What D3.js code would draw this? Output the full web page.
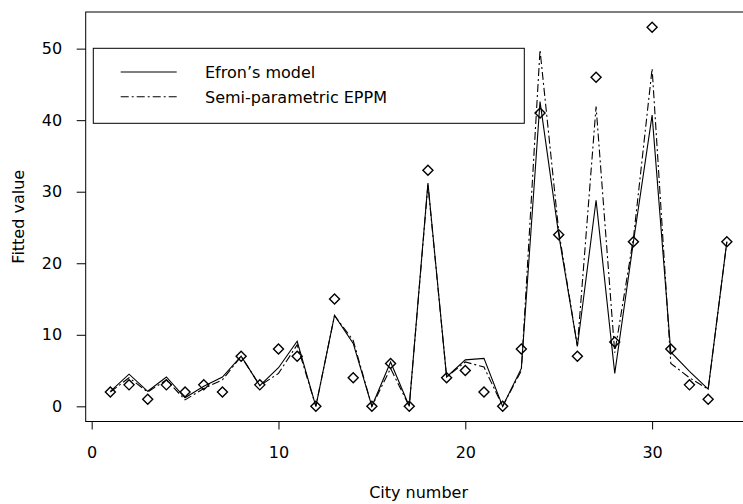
<!DOCTYPE html>
<html>
<head>
<meta charset="utf-8">
<script src="https://cdn.jsdelivr.net/npm/d3@7"></script>
<style>
  body { margin: 0; background: #fff; }
  svg { display: block; font-family: "DejaVu Sans", sans-serif; }
</style>
</head>
<body>
<div id="chart-area"></div>
<script>
// City numbers 1..34
var cities = [1, 2, 3, 4, 5, 6, 7, 8, 9, 10, 11, 12, 13, 14, 15, 16, 17,
              18, 19, 20, 21, 22, 23, 24, 25, 26, 27, 28, 29, 30, 31, 32, 33, 34];
// observed counts (diamonds)
var observed = [2, 3, 1, 3, 2, 3, 2, 7, 3, 8, 7, 0, 15, 4, 0, 6, 0,
                33, 4, 5, 2, 0, 8, 41, 24, 7, 46, 9, 23, 53, 8, 3, 1, 23];
// Efron's model fitted (solid)
var efron = [2.1, 4.5, 2.1, 4.1, 1.2, 2.8, 4.1, 7.0, 2.9, 5.4, 9.1, 0, 12.7, 8.8, 0, 6.2, 0,
             31.2, 4.1, 6.5, 6.7, 0, 5.3, 42.6, 24.0, 8.4, 28.8, 4.6, 23.0, 40.7, 7.6, 4.9, 2.4, 23.0];
// Semi-parametric EPPM fitted (dot-dash)
var eppm = [2.0, 4.0, 2.0, 3.7, 0.9, 2.5, 3.7, 7.0, 2.9, 4.6, 8.6, 0, 12.7, 9.2, 0, 5.3, 0,
            31.0, 4.1, 6.2, 5.5, 0, 5.0, 49.8, 24.5, 8.4, 41.9, 7.5, 23.5, 47.2, 6.0, 4.0, 2.4, 23.0];
var xTicks = [0, 10, 20, 30];
var yTicks = [0, 10, 20, 30, 40, 50];
var seriesNames = ["Efron\u2019s model", "Semi-parametric EPPM"];

var width = 743, height = 504;
var plot = { left: 85.7, top: 12, bottom: 421.5, right: 751.5 };
var fontSize = "16px";
var font = "DejaVu Sans, sans-serif";

var svg = d3.select("#chart-area")
    .append("svg")
        .attr("width", width)
        .attr("height", height);

svg.append("rect")
    .attr("width", width).attr("height", height).attr("fill", "#fff");

// Scales (R style 4% padding)
var x = d3.scaleLinear()
    .domain([-0.32, 35.32])
    .range([plot.left, plot.right]);
var y = d3.scaleLinear()
    .domain([-2.12, 55.12])
    .range([plot.bottom, plot.top]);

// Box
svg.append("rect")
    .attr("x", plot.left)
    .attr("y", plot.top)
    .attr("width", plot.right - plot.left)
    .attr("height", plot.bottom - plot.top)
    .attr("fill", "none")
    .attr("stroke", "#000")
    .attr("stroke-width", 1);

// X Axis
var xAxisCall = d3.axisBottom(x)
    .tickValues(xTicks)
    .tickSize(8)
    .tickPadding(17)
    .tickFormat(d3.format("d"));
var xAxis = svg.append("g")
    .attr("transform", "translate(0," + plot.bottom + ")")
    .call(xAxisCall);
xAxis.select(".domain").remove();
xAxis.selectAll("text").attr("font-size", fontSize).attr("fill", "#000")
    .attr("font-family", font);

// Y Axis
var yAxisCall = d3.axisLeft(y)
    .tickValues(yTicks)
    .tickSize(9)
    .tickPadding(14.5)
    .tickFormat(d3.format("d"));
var yAxis = svg.append("g")
    .attr("transform", "translate(" + plot.left + ",0)")
    .call(yAxisCall);
yAxis.select(".domain").remove();
yAxis.selectAll("text").attr("font-size", fontSize).attr("fill", "#000")
    .attr("font-family", font);

// Labels
svg.append("text")
    .attr("x", (plot.left + plot.right) / 2)
    .attr("y", 498)
    .attr("font-size", fontSize)
    .attr("text-anchor", "middle")
    .text("City number");
svg.append("text")
    .attr("transform", "translate(24," + (plot.top + plot.bottom) / 2 + ") rotate(-90)")
    .attr("font-size", fontSize)
    .attr("text-anchor", "middle")
    .text("Fitted value");

// Lines
var line = function(vals) {
    return d3.line()
        .x(function(d, i) { return x(cities[i]); })
        .y(function(d) { return y(d); })(vals);
};
svg.append("path")
    .attr("d", line(efron))
    .attr("fill", "none")
    .attr("stroke", "#000")
    .attr("stroke-width", 1.1);
svg.append("path")
    .attr("d", line(eppm))
    .attr("fill", "none")
    .attr("stroke", "#000")
    .attr("stroke-width", 1.1)
    .attr("stroke-dasharray", "8,3,2,3");

// Diamonds
svg.selectAll("path.pt")
    .data(observed)
    .enter()
    .append("path")
        .attr("class", "pt")
        .attr("d", d3.symbol().type(d3.symbolDiamond2).size(64))
        .attr("transform", function(d, i) {
            return "translate(" + x(cities[i]) + "," + y(d) + ")";
        })
        .attr("fill", "none")
        .attr("stroke", "#000")
        .attr("stroke-width", 1.4);

// Legend
var legend = svg.append("g");
legend.append("rect")
    .attr("x", 93.3).attr("y", 48.3)
    .attr("width", 431).attr("height", 75)
    .attr("fill", "#fff")
    .attr("stroke", "#000");
seriesNames.forEach(function(name, i) {
    var ly = 72 + i * 24.7;
    legend.append("line")
        .attr("x1", 120.7).attr("x2", 176.7)
        .attr("y1", ly).attr("y2", ly)
        .attr("stroke", "#000")
        .attr("stroke-width", 1.1)
        .attr("stroke-dasharray", i == 1 ? "8,3,2,3" : null);
    legend.append("text")
        .attr("x", 205)
        .attr("y", ly + 6)
        .attr("font-size", fontSize)
        .text(name);
});
</script>
</body>
</html>
